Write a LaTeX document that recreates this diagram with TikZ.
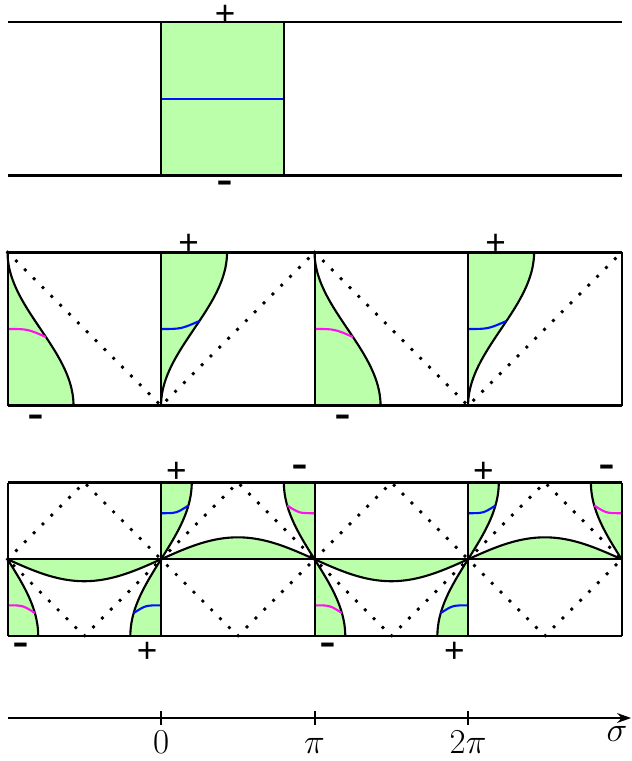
\documentclass[tikz,border=0pt]{standalone}
\usepackage{fontspec}
\usepackage{xcolor}
\definecolor{sheetGreen}{HTML}{BBFFAA}
\definecolor{cutBlue}{HTML}{0010FF}
\definecolor{cutPink}{HTML}{FF10EE}
\newfontfamily\signfont{Liberation Sans}
\usepackage{tikz}
\usetikzlibrary{arrows.meta}

\begin{document}
\begin{tikzpicture}[x=3.84cm, y=3.84cm, >={Stealth[length=10pt,width=7pt]},
  edge/.style={line width=1.9pt},
  wall/.style={line width=1.4pt},
  rim/.style={line width=1.5pt},
  ray/.style={line width=2.8pt, dash pattern=on 0pt off 8.9pt, line cap=round},
  tagplus/.style={anchor=base, yshift=-8.8pt, inner sep=0pt, font=\signfont\fontsize{25}{25}\selectfont},
  tagminus/.style={anchor=base, yshift=-9.5pt, inner sep=0pt, font=\signfont\fontsize{36}{36}\selectfont},
  ticklab/.style={anchor=base, inner sep=0pt, font=\fontsize{25}{28}\selectfont}]
  \useasboundingbox (-1.049,-0.314) rectangle (3.062,4.643);

  % ------- top strip: one filled box -------
  \fill[sheetGreen] (0,3.5) rectangle (0.8,4.5);
  \draw[cutBlue, rim] (0,4) -- (0.8,4);
  \draw[wall] (0,3.5) -- (0,4.5) (0.8,3.5) -- (0.8,4.5);
  \draw[edge] (-1,4.5) -- (3,4.5) (-1,3.5) -- (3,3.5);
  \node[tagplus] (boxplus) at (0.417,4.555) {+};
  \node[tagminus] (boxminus) at (0.417,3.451) {-};

  % ------- middle strip: sheared sheets -------
  \foreach \k in {0,2} {
    \fill[sheetGreen] (\k-1,2) -- (\k-1,3)
      -- plot[domain=0:1, samples=40] ({\k-1+0.215*(1-cos(180*\x))},{3-\x}) -- cycle;
    \fill[sheetGreen] (\k,3) -- (\k,2)
      -- plot[domain=0:1, samples=40] ({\k+0.215*(1-cos(180*\x))},{2+\x}) -- cycle;
    \draw[ray] (\k-1,3) -- (\k,2) -- (\k+1,3);
    \draw[rim] plot[domain=0:1, samples=40] ({\k-1+0.215*(1-cos(180*\x))},{3-\x});
    \draw[rim] plot[domain=0:1, samples=40] ({\k+0.215*(1-cos(180*\x))},{2+\x});
    \draw[cutPink, rim] (\k-1,2.5) .. controls (\k-0.87,2.5) .. (\k-0.75,2.448);
    \draw[cutBlue, rim] (\k,2.5) .. controls (\k+0.13,2.5) .. (\k+0.25,2.552);
    \node[tagplus] (midplus\k) at (\k+0.18,3.067) {+};
    \node[tagminus] (midminus\k) at (\k-0.814,1.927) {-};
  }
  \draw[edge] (-1,3) -- (3,3) (-1,2) -- (3,2);
  \draw[wall] (-1,2) -- (-1,3) (0,2) -- (0,3) (1,2) -- (1,3) (2,2) -- (2,3) (3,2) -- (3,3);

  % ------- bottom strip: split sheets with lenses -------
  \foreach \k in {0,2} {
    % lenses
    \fill[sheetGreen] (\k-1,1) -- plot[domain=0:1, samples=40] ({\k-1+\x},{1-0.143*sin(180*\x)}) -- cycle;
    \fill[sheetGreen] (\k,1) -- plot[domain=0:1, samples=40] ({\k+\x},{1+0.143*sin(180*\x)}) -- cycle;
    % corners
    \fill[sheetGreen] (\k-1,0.5) -- (\k-1,1)
      -- plot[domain=0:1, samples=30] ({\k-1+0.2*sin(90*\x)},{1-0.5*\x}) -- cycle;
    \fill[sheetGreen] (\k,0.5) -- (\k,1)
      -- plot[domain=0:1, samples=30] ({\k-0.2*sin(90*\x)},{1-0.5*\x}) -- cycle;
    \fill[sheetGreen] (\k,1.5) -- (\k,1)
      -- plot[domain=0:1, samples=30] ({\k+0.2*sin(90*\x)},{1+0.5*\x}) -- cycle;
    \fill[sheetGreen] (\k+1,1.5) -- (\k+1,1)
      -- plot[domain=0:1, samples=30] ({\k+1-0.2*sin(90*\x)},{1+0.5*\x}) -- cycle;
  }
  \foreach \c in {0,1,2,3}
    \draw[ray] (\c-1,1) -- (\c-0.5,1.5) -- (\c,1) -- (\c-0.5,0.5) -- cycle;
  \foreach \k in {0,2} {
    \draw[rim] plot[domain=0:1, samples=40] ({\k-1+\x},{1-0.143*sin(180*\x)});
    \draw[rim] plot[domain=0:1, samples=40] ({\k+\x},{1+0.143*sin(180*\x)});
    \draw[rim] plot[domain=0:1, samples=30] ({\k-1+0.2*sin(90*\x)},{1-0.5*\x});
    \draw[rim] plot[domain=0:1, samples=30] ({\k-0.2*sin(90*\x)},{1-0.5*\x});
    \draw[rim] plot[domain=0:1, samples=30] ({\k+0.2*sin(90*\x)},{1+0.5*\x});
    \draw[rim] plot[domain=0:1, samples=30] ({\k+1-0.2*sin(90*\x)},{1+0.5*\x});
    \draw[cutBlue, rim] (\k,1.3) .. controls (\k+0.1,1.3) .. (\k+0.178,1.35);
    \draw[cutPink, rim] (\k+1,1.3) .. controls (\k+0.9,1.3) .. (\k+0.822,1.35);
    \draw[cutPink, rim] (\k-1,0.7) .. controls (\k-0.9,0.7) .. (\k-0.822,0.65);
    \draw[cutBlue, rim] (\k,0.7) .. controls (\k-0.1,0.7) .. (\k-0.178,0.65);
    \node[tagplus] (lowplusA\k) at (\k+0.1,1.581) {+};
    \node[tagminus] (lowminusA\k) at (\k+0.905,1.601) {-};
    \node[tagminus] (lowminusB\k) at (\k-0.91,0.441) {-};
    \node[tagplus] (lowplusB\k) at (\k-0.09,0.409) {+};
  }
  \draw[edge] (-1,1.5) -- (3,1.5) (-1,0.5) -- (3,0.5);
  \draw[wall] (-1,1) -- (3,1);
  \draw[wall] (-1,0.5) -- (-1,1.5) (0,0.5) -- (0,1.5) (1,0.5) -- (1,1.5) (2,0.5) -- (2,1.5) (3,0.5) -- (3,1.5);

  % ------- sigma axis -------
  \coordinate (axisL) at (-1,-0.034);
  \coordinate (axisR) at (3.062,-0.034);
  \draw[wall, ->] (axisL) -- (axisR);
  \foreach \t/\lab in {0/0,1/\pi,2/2\pi} {
    \draw[wall] (\t,-0.08) -- (\t,0.012);
    \node[ticklab] (tick\t) at (\t,-0.262) {$\lab$};
  }
  \node[ticklab] (sigmalab) at (2.97,-0.19) {$\sigma$};
\end{tikzpicture}
\end{document}
